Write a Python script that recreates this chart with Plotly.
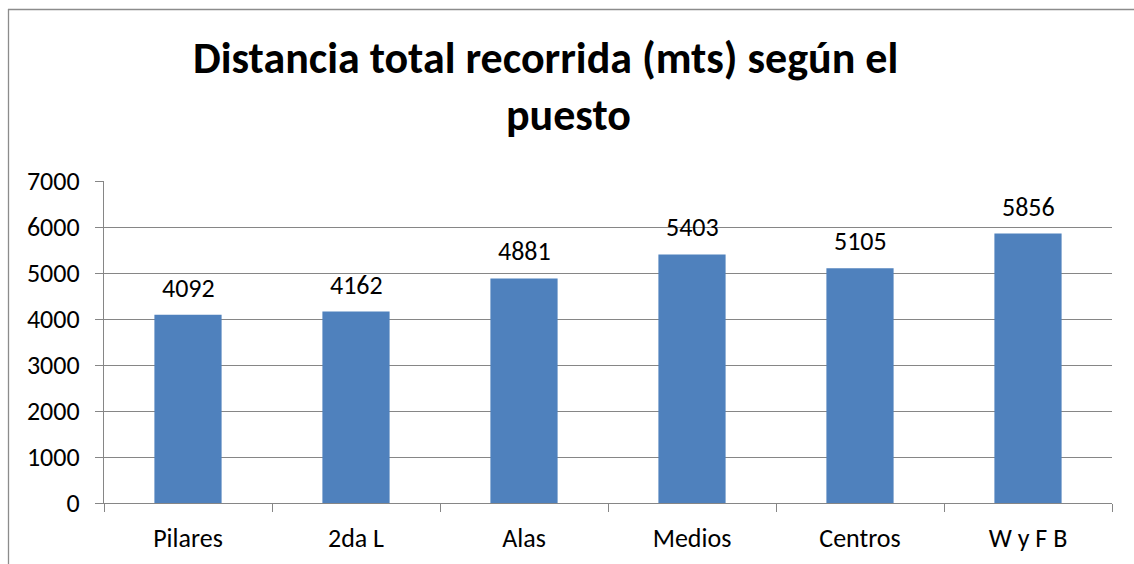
import plotly.graph_objects as go

categories = ["Pilares", "2da L", "Alas", "Medios", "Centros", "W y F B"]
values = [4092, 4162, 4881, 5403, 5105, 5856]
title_lines = ["Distancia total recorrida (mts) según el", "puesto"]

W, H = 1134, 564
L, R, T, B = 104, 22, 181, 61
pw, ph = W - L - R, H - T - B

def px_x(x):
    return (x - L) / pw

def px_y(y):
    return (H - B - y) / ph

font_family = "Carlito, Calibri, Lato, sans-serif"
FS = 26

fig = go.Figure(go.Bar(
    x=categories, y=values, width=0.4,
    marker=dict(color="#4F81BD", line=dict(width=0)),
))

for c, v in zip(categories, values):
    fig.add_annotation(x=c, y=v, text=str(v), showarrow=False, yshift=27,
                       yanchor="middle", font=dict(size=FS, color="#000000", family=font_family))

fig.update_layout(
    width=W, height=H,
    margin=dict(l=L, r=R, t=T, b=B, autoexpand=False),
    paper_bgcolor="white", plot_bgcolor="white",
    showlegend=False,
    font=dict(family=font_family, size=FS, color="#000000"),
    xaxis=dict(
        showline=True, linecolor="#868686", linewidth=1.3,
        ticks="outside", tickson="boundaries", ticklen=8, tickcolor="#868686",
        tickfont=dict(size=FS), showgrid=False, ticklabelstandoff=12,
    ),
    yaxis=dict(
        range=[0, 7000], dtick=1000, tick0=0,
        showline=True, linecolor="#868686", linewidth=1.3,
        ticks="outside", ticklen=8, tickcolor="#868686",
        showgrid=True, gridcolor="#868686", gridwidth=1.3,
        zeroline=False, tickfont=dict(size=FS), ticklabelstandoff=10,
    ),
    shapes=[
        dict(type="line", xref="paper", yref="paper",
             x0=px_x(8.5), x1=px_x(8.5), y0=px_y(9), y1=px_y(600),
             line=dict(color="#8c8c8c", width=1.3)),
        dict(type="line", xref="paper", yref="paper",
             x0=px_x(8), x1=px_x(1200), y0=px_y(9.5), y1=px_y(9.5),
             line=dict(color="#8c8c8c", width=1.3)),
    ],
)

fig.add_annotation(text="<b>%s</b>" % title_lines[0], xref="paper", yref="paper",
                   x=px_x(545), y=px_y(58), xanchor="center", yanchor="middle",
                   showarrow=False, font=dict(size=44, family=font_family))
fig.add_annotation(text="<b>%s</b>" % title_lines[1], xref="paper", yref="paper",
                   x=px_x(568), y=px_y(115), xanchor="center", yanchor="middle",
                   showarrow=False, font=dict(size=44, family=font_family))

fig.write_html("out.html", config={"displayModeBar": False},
               post_script="document.body.style.margin='0px';document.body.style.overflow='hidden';")
